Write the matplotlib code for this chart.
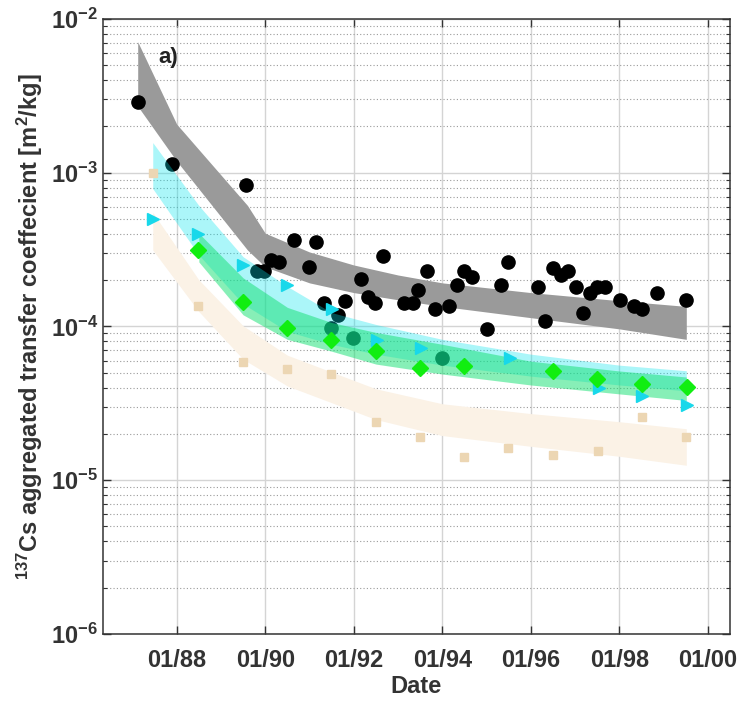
import matplotlib
matplotlib.use('Agg')
import matplotlib.pyplot as plt
from matplotlib.ticker import FixedLocator, LogLocator, NullFormatter
import numpy as np

plt.rcParams['font.family'] = ['Liberation Sans', 'DejaVu Sans']
plt.rcParams['font.weight'] = 'bold'
plt.rcParams['mathtext.fontset'] = 'custom'
plt.rcParams['mathtext.rm'] = 'Liberation Sans:bold'
plt.rcParams['mathtext.bf'] = 'Liberation Sans:bold'
plt.rcParams['mathtext.it'] = 'Liberation Sans:bold'
plt.rcParams['mathtext.default'] = 'rm'

# measured data (decimal years)
black_t = [1987.12, 1987.89, 1989.56, 1989.81, 1989.98, 1990.14, 1990.32, 1990.65,
           1990.99, 1991.15, 1991.32, 1991.48, 1991.65, 1991.81, 1991.99, 1992.16,
           1992.33, 1992.49, 1992.66, 1993.14, 1993.34, 1993.46, 1993.66, 1993.83,
           1994.00, 1994.16, 1994.33, 1994.50, 1994.67, 1995.00, 1995.33, 1995.49,
           1996.17, 1996.33, 1996.50, 1996.67, 1996.84, 1997.01, 1997.17, 1997.34,
           1997.50, 1997.68, 1998.01, 1998.34, 1998.52, 1998.85, 1999.51]
black_v = [2.87e-3, 1.14e-3, 8.28e-4, 2.30e-4, 2.30e-4, 2.71e-4, 2.62e-4, 3.64e-4,
           2.44e-4, 3.52e-4, 1.41e-4, 9.7e-5, 1.18e-4, 1.47e-4, 8.4e-5, 2.05e-4,
           1.55e-4, 1.41e-4, 2.88e-4, 1.41e-4, 1.41e-4, 1.73e-4, 2.31e-4, 1.29e-4,
           6.2e-5, 1.36e-4, 1.87e-4, 2.31e-4, 2.11e-4, 9.67e-5, 1.87e-4, 2.61e-4,
           1.80e-4, 1.09e-4, 2.39e-4, 2.17e-4, 2.31e-4, 1.80e-4, 1.23e-4, 1.66e-4,
           1.80e-4, 1.80e-4, 1.48e-4, 1.36e-4, 1.29e-4, 1.66e-4, 1.48e-4]

cyan_t = [1987.46, 1988.49, 1989.49, 1990.49, 1991.50, 1992.52, 1993.51, 1995.52,
          1997.53, 1998.52, 1999.53]
cyan_v = [5.03e-4, 3.98e-4, 2.51e-4, 1.87e-4, 1.29e-4, 8.16e-5, 7.28e-5, 6.2e-5,
          3.96e-5, 3.55e-5, 3.09e-5]

green_t = [1988.49, 1989.49, 1990.50, 1991.49, 1992.50, 1993.50, 1994.49, 1996.49,
           1997.50, 1998.51, 1999.53]
green_v = [3.14e-4, 1.44e-4, 9.8e-5, 8.16e-5, 6.87e-5, 5.33e-5, 5.54e-5, 5.1e-5,
           4.55e-5, 4.22e-5, 4.06e-5]

tan_t = [1987.46, 1988.49, 1989.49, 1990.49, 1991.48, 1992.50, 1993.50, 1994.49,
         1995.49, 1996.50, 1997.51, 1998.51, 1999.51]
tan_v = [1.0e-3, 1.35e-4, 5.83e-5, 5.28e-5, 4.9e-5, 2.39e-5, 1.91e-5, 1.42e-5,
         1.61e-5, 1.46e-5, 1.55e-5, 2.58e-5, 1.91e-5]

# model bands
gray_t = [1987.12, 1988.0, 1989.6, 1990.0, 1991.0, 1992.0, 1993.0, 1994.0, 1996.0, 1998.0, 1999.51]
gray_lo = [2.71e-3, 1.19e-3, 3.14e-4, 2.44e-4, 1.92e-4, 1.66e-4, 1.49e-4, 1.35e-4, 1.14e-4, 9.64e-5, 8.24e-5]
gray_hi = [7.11e-3, 2.07e-3, 6.12e-4, 4.04e-4, 3.05e-4, 2.51e-4, 2.16e-4, 1.92e-4, 1.66e-4, 1.47e-4, 1.35e-4]

cband_t = [1987.46, 1988.5, 1989.5, 1990.5, 1991.5, 1992.5, 1994.0, 1996.0, 1998.0, 1999.51]
cband_lo = [7.88e-4, 2.92e-4, 1.4e-4, 9.29e-5, 7.65e-5, 6.6e-5, 5.6e-5, 4.75e-5, 4.16e-5, 3.81e-5]
cband_hi = [1.57e-3, 6.12e-4, 2.84e-4, 1.82e-4, 1.23e-4, 1.03e-4, 8.24e-5, 6.6e-5, 5.6e-5, 5.15e-5]

gband_t = [1988.5, 1989.5, 1990.5, 1991.5, 1992.5, 1994.0, 1996.0, 1998.0, 1999.51]
gband_lo = [2.63e-4, 1.19e-4, 8.24e-5, 6.9e-5, 5.69e-5, 4.9e-5, 4.16e-5, 3.64e-5, 3.3e-5]
gband_hi = [4.04e-4, 2.07e-4, 1.33e-4, 1.06e-4, 9.14e-5, 7.65e-5, 5.94e-5, 5.13e-5, 4.69e-5]

tband_t = [1987.46, 1988.5, 1989.5, 1990.5, 1991.5, 1992.5, 1994.0, 1996.0, 1998.0, 1999.51]
tband_lo = [3.14e-4, 1.25e-4, 6.12e-5, 4.1e-5, 3.19e-5, 2.48e-5, 1.95e-5, 1.66e-5, 1.43e-5, 1.25e-5]
tband_hi = [5.52e-4, 2.01e-4, 1.01e-4, 6.5e-5, 5.05e-5, 3.93e-5, 3.14e-5, 2.71e-5, 2.4e-5, 2.16e-5]

xtick_pos = [1988, 1990, 1992, 1994, 1996, 1998, 2000]
xtick_lab = ['01/88', '01/90', '01/92', '01/94', '01/96', '01/98', '01/00']
ytick_pos = [1e-6, 1e-5, 1e-4, 1e-3, 1e-2]
ytick_lab = [r'$10^{-6}$', r'$10^{-5}$', r'$10^{-4}$', r'$10^{-3}$', r'$10^{-2}$']

fig = plt.figure(figsize=(7.39, 7.02), dpi=100)
ax = fig.add_axes([0.139, 0.097, 0.849, 0.876])
ax.set_yscale('log')

ax.fill_between(tband_t, tband_lo, tband_hi, color='#fbf2e6', lw=0, zorder=1)
ax.fill_between(gray_t, gray_lo, gray_hi, color='#9a9a9a', lw=0, zorder=2)
ax.plot(black_t, black_v, 'o', color='black', ms=9.5, zorder=3)
ax.fill_between(cband_t, cband_lo, cband_hi, color='#00e5ee', alpha=0.33, lw=0, zorder=4)
ax.fill_between(gband_t, gband_lo, gband_hi, color='#11e070', alpha=0.5, lw=0, zorder=5)
ax.plot(tan_t, tan_v, 's', color='#ecd6b3', ms=5.5, zorder=6)
ax.plot(cyan_t, cyan_v, '>', color='#18d8ea', ms=9, zorder=7)
ax.plot(green_t, green_v, 'D', color='#11ee11', ms=8, zorder=8)

ax.set_xlim(1986.33, 2000.5)
ax.set_ylim(1e-6, 1e-2)

ax.xaxis.set_major_locator(FixedLocator(xtick_pos))
ax.set_xticklabels(xtick_lab)
ax.yaxis.set_major_locator(FixedLocator(ytick_pos))
ax.set_yticklabels(ytick_lab)
ax.yaxis.set_minor_locator(LogLocator(base=10, subs=np.arange(2, 10), numticks=20))
ax.yaxis.set_minor_formatter(NullFormatter())

ax.grid(True, which='major', axis='both', color='#d4d4d4', lw=1.0, zorder=0)
ax.grid(True, which='minor', axis='y', color='#9a9a9a', lw=0.8, ls=(0, (1, 2)), zorder=0)
ax.set_axisbelow(True)

ax.tick_params(which='both', direction='in', top=True, right=True, colors='#333333',
               labelcolor='#333333', labelsize=17)
ax.tick_params(which='major', length=6, width=1)
ax.tick_params(which='minor', length=3, width=0.8)
ax.tick_params(axis='x', pad=11)
for s in ax.spines.values():
    s.set_color('#333333')
    s.set_linewidth(1.1)

ax.set_xlabel('Date', fontsize=17, fontweight='bold', color='#333333', labelpad=2)
ax.set_ylabel(r'$^{137}$Cs aggregated transfer coeffecient [m$^2$/kg]', fontsize=17,
              fontweight='bold', color='#333333', labelpad=4)
ax.text(0.088, 0.938, 'a)', transform=ax.transAxes, fontsize=16, fontweight='bold',
        color='#222222', va='center', ha='left')

fig.savefig('out.png', dpi=100)
